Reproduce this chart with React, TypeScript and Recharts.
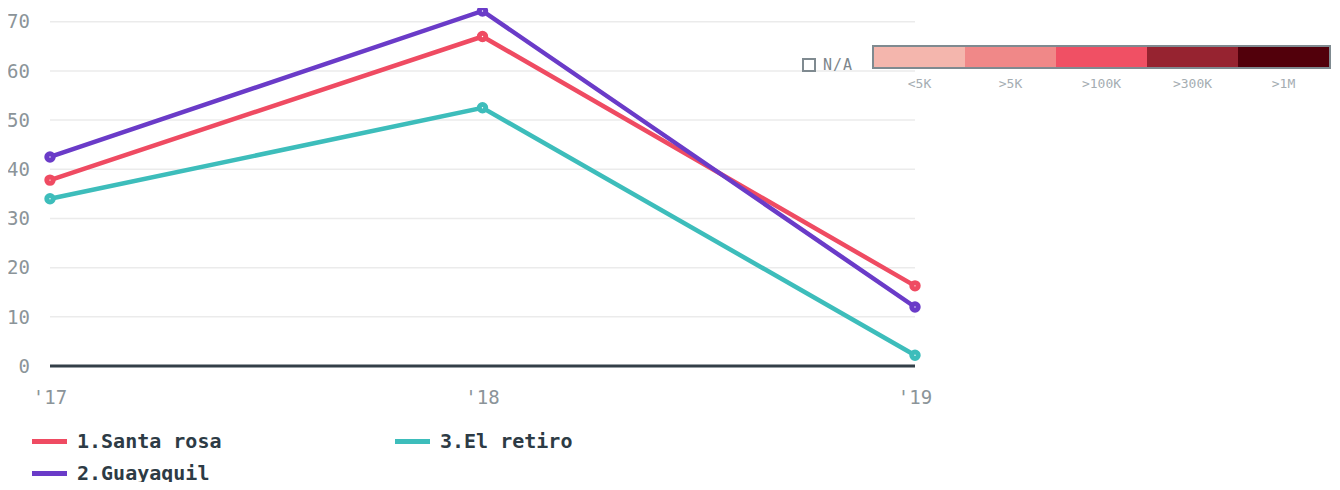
import { CartesianGrid, Line, LineChart, XAxis, YAxis } from "recharts";

const YEARS = ["'17", "'18", "'19"];
const SANTA_ROSA = [37.8, 67.0, 16.3];
const GUAYAQUIL = [42.5, 72.2, 12.0];
const EL_RETIRO = [34.0, 52.5, 2.2];
const Y_TICKS = [0, 10, 20, 30, 40, 50, 60, 70];

const SERIES = [
  { key: "santaRosa", name: "1.Santa rosa", color: "#ef4b62", values: SANTA_ROSA },
  { key: "guayaquil", name: "2.Guayaquil", color: "#6a3bc8", values: GUAYAQUIL },
  { key: "elRetiro", name: "3.El retiro", color: "#3dbdbb", values: EL_RETIRO },
];

const SCALE_LABELS = ["<5K", ">5K", ">100K", ">300K", ">1M"];
const SCALE_COLORS = ["#f4b6ad", "#f08888", "#f05064", "#962330", "#52000b"];

const MONO = "'DejaVu Sans Mono', 'Liberation Mono', monospace";

const data = YEARS.map((year, i) => {
  const row: Record<string, string | number> = { year };
  SERIES.forEach((s) => {
    row[s.key] = s.values[i];
  });
  return row;
});

function LegendItem({ name, color, left, top }: { name: string; color: string; left: number; top: number }) {
  return (
    <div style={{ position: "absolute", left, top, display: "flex", alignItems: "center", height: 24 }}>
      <span style={{ width: 35, height: 5, background: color, display: "inline-block", marginRight: 10 }} />
      <span style={{ fontFamily: MONO, fontWeight: 700, fontSize: 20, color: "#2d3b45" }}>{name}</span>
    </div>
  );
}

function ColorScale() {
  return (
    <div style={{ position: "absolute", left: 802, top: 45 }}>
      <div style={{ position: "absolute", left: 0, top: 11, display: "flex", alignItems: "center" }}>
        <span style={{ width: 10, height: 10, border: "2px solid #7f8a90", display: "inline-block", marginRight: 7 }} />
        <span style={{ fontFamily: MONO, fontSize: 15, color: "#7d868c", letterSpacing: 1 }}>N/A</span>
      </div>
      <div style={{ position: "absolute", left: 70, top: 0, width: 455, display: "flex", border: "2px solid #7f8a90" }}>
        {SCALE_COLORS.map((c) => (
          <span key={c} style={{ flex: "0 0 91px", height: 20, background: c }} />
        ))}
      </div>
      <div style={{ position: "absolute", left: 72, top: 31, width: 455, display: "flex" }}>
        {SCALE_LABELS.map((l) => (
          <span key={l} style={{ flex: "0 0 91px", textAlign: "center", fontFamily: MONO, fontSize: 13, color: "#a5adb2" }}>
            {l}
          </span>
        ))}
      </div>
    </div>
  );
}

export default function App() {
  return (
    <div style={{ position: "relative", margin: -8, width: 1340, height: 490, background: "#fff", overflow: "hidden" }}>
      <LineChart width={1340} height={490} data={data} margin={{ top: 7, right: 425, left: 0, bottom: 94 }}>
        <CartesianGrid vertical={false} stroke="#ebebeb" strokeWidth={1.5} />
        <XAxis
          dataKey="year"
          height={30}
          axisLine={{ stroke: "#333f48", strokeWidth: 3 }}
          tickLine={false}
          tickSize={0}
          tickMargin={25}
          tick={{ fill: "#8b9499", fontSize: 19, fontFamily: MONO }}
        />
        <YAxis
          width={50}
          domain={[0, 73]}
          ticks={Y_TICKS}
          axisLine={false}
          tickLine={false}
          tickSize={0}
          tickMargin={20}
          tick={{ fill: "#8b9499", fontSize: 19, fontFamily: MONO }}
        />
        {SERIES.map((s) => (
          <Line
            key={s.key}
            type="linear"
            dataKey={s.key}
            name={s.name}
            stroke={s.color}
            strokeWidth={4.5}
            dot={{ r: 3.2, stroke: s.color, strokeWidth: 5, fill: "#fff" }}
            activeDot={false}
            isAnimationActive={false}
          />
        ))}
      </LineChart>
      <ColorScale />
      <LegendItem name={SERIES[0].name} color={SERIES[0].color} left={32} top={429} />
      <LegendItem name={SERIES[2].name} color={SERIES[2].color} left={395} top={429} />
      <LegendItem name={SERIES[1].name} color={SERIES[1].color} left={32} top={461} />
    </div>
  );
}
